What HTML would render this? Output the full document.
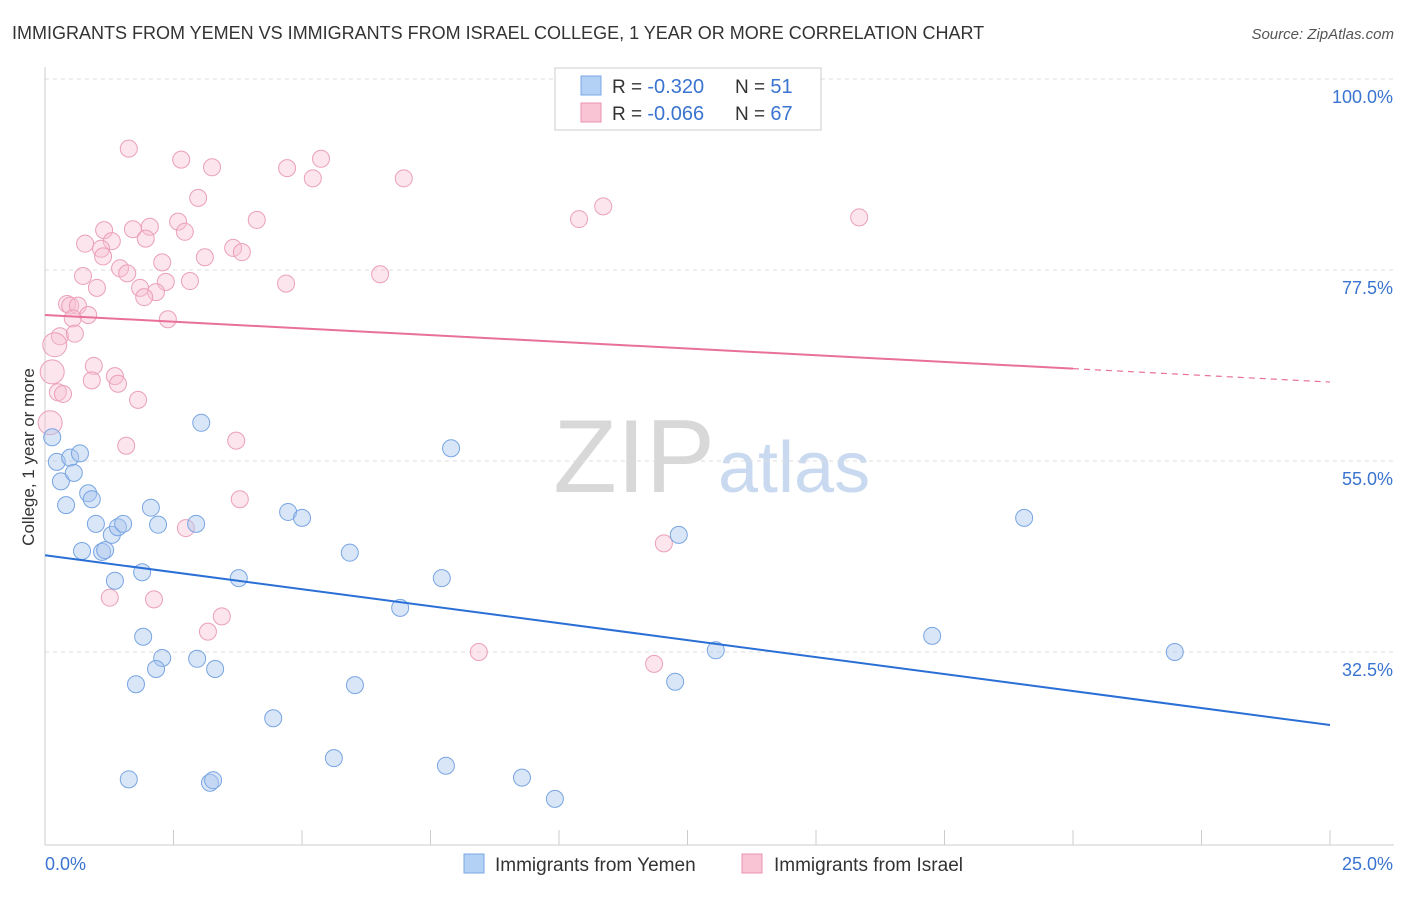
<!DOCTYPE html>
<html><head><meta charset="utf-8"><style>
body{margin:0;background:#fff;font-family:"Liberation Sans",sans-serif}
svg text{font-family:"Liberation Sans",sans-serif}
</style></head><body>
<svg id="c" width="1406" height="892">
<text x="12" y="39" font-size="18" fill="#333">IMMIGRANTS FROM YEMEN VS IMMIGRANTS FROM ISRAEL COLLEGE, 1 YEAR OR MORE CORRELATION CHART</text>
<text x="1394" y="39" font-size="15" fill="#555" font-style="italic" text-anchor="end">Source: ZipAtlas.com</text>
<text x="0" y="0" font-size="17" fill="#333" transform="translate(34,457) rotate(-90)" text-anchor="middle">College, 1 year or more</text>
<text x="715" y="492" font-size="104" fill="#d8d8d8" text-anchor="end" font-family="Liberation Serif">ZIP</text>
<text x="718" y="492" font-size="72" fill="#c9daf0">atlas</text>
<g id="grid"></g><g id="pts"></g><g id="lines"></g>
<g>
<rect x="555" y="68" width="266" height="62" fill="#fff" stroke="#ccc"/>
<rect x="581" y="76" width="20" height="19" fill="#b3d0f5" stroke="#7aa7e6"/>
<rect x="581" y="103" width="20" height="19" fill="#f9c5d5" stroke="#ec93b0"/>
<text x="612" y="93" font-size="19" fill="#333">R = <tspan fill="#3a74d0" font-size="20">-0.320</tspan><tspan x="735">N = </tspan><tspan fill="#3a74d0" font-size="20">51</tspan></text>
<text x="612" y="120" font-size="19" fill="#333">R = <tspan fill="#3a74d0" font-size="20">-0.066</tspan><tspan x="735">N = </tspan><tspan fill="#3a74d0" font-size="20">67</tspan></text>
</g>
<g>
<rect x="464" y="854" width="20" height="19" fill="#b3d0f5" stroke="#7aa7e6"/>
<text x="495" y="871" font-size="19" fill="#333">Immigrants from Yemen</text>
<rect x="742" y="854" width="20" height="19" fill="#f9c5d5" stroke="#ec93b0"/>
<text x="774" y="871" font-size="19" fill="#333">Immigrants from Israel</text>
</g>
</svg>
<script>
const xTickLabels=["0.0%","25.0%"];
const yTicks=[100,77.5,55,32.5];
const yTickLabels=["100.0%","77.5%","55.0%","32.5%"];
const yemenX=[.14,.23,.31,.41,.49,.56,.68,.84,.91,.99,.72,1.11,1.17,1.30,1.42,1.52,1.36,1.89,2.06,2.20,2.94,3.04,3.77,1.91,2.28,2.16,1.77,2.96,3.31,4.73,5.00,5.93,6.91,7.72,7.90,4.44,5.62,6.03,7.80,9.28,9.92,1.63,3.21,3.27,12.33,13.05,12.26,17.26,19.05,21.98];
const yemenY=[57.8,54.9,52.6,49.8,55.4,53.6,55.9,51.2,50.5,47.6,44.4,44.3,44.5,46.3,47.2,47.6,40.9,41.9,49.5,47.5,47.6,59.5,41.2,34.3,31.8,30.5,28.7,31.7,30.5,49.0,48.3,44.2,37.7,41.2,56.5,24.7,20.0,28.6,19.1,17.7,15.2,17.5,17.1,17.4,46.3,32.7,29.0,34.4,48.3,32.5];
const israelX=[1.63,2.65,3.25,5.37,4.71,5.21,6.98,2.98,4.12,10.39,10.86,15.84,1.15,1.71,2.04,2.59,2.72,.78,1.30,1.96,1.09,1.13,3.66,3.83,3.11,2.28,1.46,1.60,.74,6.52,4.69,2.35,2.82,1.85,2.16,1.01,1.93,.43,.49,.64,.54,.84,2.39,.29,.58,.19,.14,.95,.91,1.36,1.42,.25,.35,1.81,.10,1.58,3.72,3.79,2.74,12.04,1.26,2.12,3.44,3.17,8.44,11.85];
const israelY=[91.8,90.5,89.6,90.6,89.5,88.3,88.3,86.0,83.4,83.5,85.0,83.7,82.2,82.3,82.6,83.2,82.0,80.6,80.9,81.2,80.0,79.1,80.1,79.6,79.0,78.4,77.7,77.1,76.8,77.0,75.9,76.1,76.2,75.4,74.9,75.4,74.3,73.5,73.3,73.3,71.8,72.2,71.7,69.7,70.0,68.7,65.5,66.2,64.5,65.0,64.1,63.1,62.9,62.2,59.5,56.8,57.4,50.5,47.1,45.3,38.9,38.7,36.7,34.9,32.5,31.1];
const yemenTrend=[43.9,23.9];
const israelTrend=[72.2,64.3];
const X=v=>45+v*51.4, Y=v=>79+(100-v)*8.489;
const NS="http://www.w3.org/2000/svg";
function mk(t,a,p){const e=document.createElementNS(NS,t);for(const k in a)e.setAttribute(k,a[k]);p.appendChild(e);return e;}
const g=document.getElementById('grid');
yTicks.forEach((t,i)=>{
 const l=mk('line',{x1:45,x2:1394,y1:Y(t),y2:Y(t),stroke:'#ddd','stroke-dasharray':'4,4'},g);
 
 
 const tx=mk('text',{x:1393,y:Y(t)+24,'font-size':18,fill:'#3a74d0','text-anchor':'end'},g);
 tx.textContent=yTickLabels[i];
 
 
});
const ax=mk('line',{x1:45,x2:1394,y1:845,y2:845,stroke:'#ccc'},g);


const ay=mk('line',{x1:45,x2:45,y1:67,y2:845,stroke:'#ccc'},g);


for(let i=0;i<=10;i++){const t=mk('line',{x1:X(i*2.5),x2:X(i*2.5),y1:830,y2:845,stroke:'#ccc'},g);
 
 }
const xl0=mk('text',{x:45,y:870,'font-size':18,fill:'#3a74d0'},g);xl0.textContent=xTickLabels[0];


const xl1=mk('text',{x:1393,y:870,'font-size':18,fill:'#3a74d0','text-anchor':'end'},g);xl1.textContent=xTickLabels[1];


const P=document.getElementById('pts');
israelX.forEach((x,i)=>{const c=mk('circle',{cx:X(x),cy:Y(israelY[i]),r:x<0.2?12:8.5,fill:'rgba(248,190,210,0.4)',stroke:'#eba0b8','stroke-width':1},P);
 
 });
yemenX.forEach((x,i)=>{const c=mk('circle',{cx:X(x),cy:Y(yemenY[i]),r:8.5,fill:'rgba(170,200,240,0.45)',stroke:'#78a5e2','stroke-width':1},P);
 
 });
const L=document.getElementById('lines');
const bl=mk('line',{x1:X(0),y1:Y(yemenTrend[0]),x2:X(25),y2:Y(yemenTrend[1]),stroke:'#2a6fd6','stroke-width':2},L);


const ys=israelTrend[0]+(israelTrend[1]-israelTrend[0])*20/25;
const pl=mk('line',{x1:X(0),y1:Y(israelTrend[0]),x2:X(20),y2:Y(ys),stroke:'#e8709a','stroke-width':2},L);


const pd=mk('line',{x1:X(20),y1:Y(ys),x2:X(25),y2:Y(israelTrend[1]),stroke:'#e8709a','stroke-width':1.2,'stroke-dasharray':'6,5'},L);


</script>
</body></html>
